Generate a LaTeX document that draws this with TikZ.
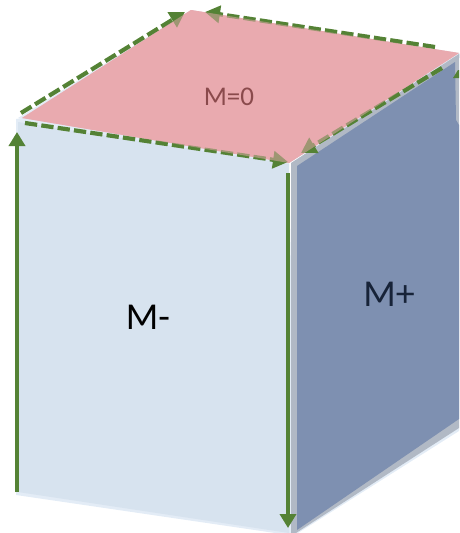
\documentclass[tikz,border=0pt]{standalone}
\usepackage{fontspec}
\setmainfont{Carlito}
\usetikzlibrary{arrows.meta}
\definecolor{lface}{HTML}{D7E3EF}
\definecolor{ledge}{HTML}{E3ECF6}
\definecolor{rface}{HTML}{7E90B1}
\definecolor{redge}{HTML}{B1B9C5}
\definecolor{tface}{HTML}{E9AAAF}
\definecolor{arrowgreen}{HTML}{548235}
\definecolor{mzerotext}{HTML}{8A4A4C}
\definecolor{mplustext}{HTML}{172338}
\tikzset{
  x=1pt,y=-1pt,
  solidarrow/.style={draw=arrowgreen,line width=4.6pt,-{Triangle[length=14pt,width=16pt]}},
  dasharrow/.style={draw=arrowgreen,line width=4.2pt,dash pattern=on 12.3pt off 4.2pt,-{Triangle[length=15pt,width=17pt]}},
  facelabel/.style={inner sep=0pt,font=\fontsize{38}{38}\selectfont}
}
\begin{document}
\begin{tikzpicture}
\useasboundingbox (0,0) rectangle (459,533);
% corners
\coordinate (tl) at (22,118);
\coordinate (tb) at (191,10);
\coordinate (tr) at (459,53);
\coordinate (tf) at (289,163);
% faces
\fill[ledge] (16,119) -- (22,118) -- (289,163) -- (296,533) -- (275,533) -- (16,495) -- cycle;
\fill[lface] (18,122) -- (289,164) -- (289,533) -- (18,492) -- cycle;
\fill[ledge] (18,118) -- (tb) -- (tr) -- (461,57) -- (tf) -- cycle;
\fill[ledge] (459,431) -- (298,533) -- (292,533) -- (459,425) -- cycle;
\fill[redge] (291,163) -- (459,54) -- (459,428) -- (296,533) -- (291,533) -- cycle;
\fill[rface] (297,166) -- (455,62) -- (456,120) -- (459,125) -- (459,419) -- (297,530) -- cycle;
\fill[tface] (tl) -- (tb) -- (tr) -- (tf) -- cycle;
% labels
\node[facelabel] (mminus) at (148,317) {M-};
\node[facelabel,text=mplustext] (mplus) at (389,294) {M+};
% arrow anchors
\coordinate (a1s) at (17,492);
\coordinate (a1e) at (17,132);
\coordinate (a2s) at (288,173);
\coordinate (a2e) at (288,528);
\coordinate (a3s) at (25,123);
\coordinate (a3e) at (288,162);
\coordinate (a4s) at (21,113);
\coordinate (a4e) at (185,12);
\coordinate (a5s) at (435,47);
\coordinate (a5e) at (205,12);
\coordinate (a6s) at (442,68);
\coordinate (a6e) at (301,153);
% connectors
\draw[solidarrow] (a1s) -- (a1e);
\draw[solidarrow] (a2s) -- (a2e);
\draw[dasharrow] (a3s) -- (a3e);
\draw[dasharrow] (a4s) -- (a4e);
\draw[dasharrow] (a5s) -- (a5e);
\draw[dasharrow] (a6s) -- (a6e);
\fill[arrowgreen] (458,70) -- (459,70) -- (459,78) -- (453,78) -- cycle;
% the pink face lies over the arrows
\fill[tface,opacity=0.5] (tl) -- (tb) -- (tr) -- (tf) -- cycle;
\node[inner sep=0pt,font=\fontsize{27}{27}\selectfont,text=mzerotext] (mzero) at (229,97) {M=0};
\end{tikzpicture}
\end{document}
